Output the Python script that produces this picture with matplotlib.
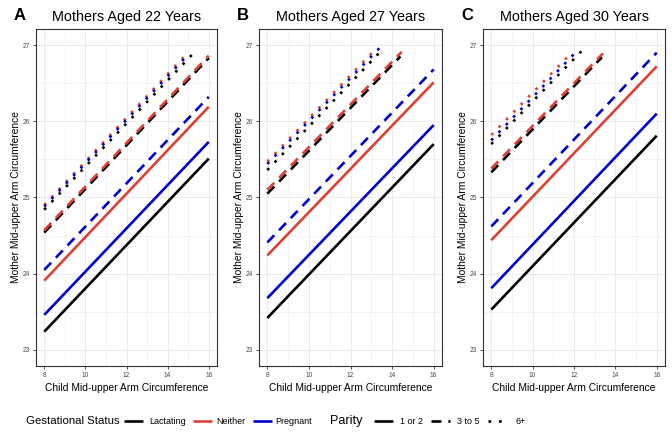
"""
    Mother vs child mid-upper arm circumference, three maternal ages
"""
import matplotlib
matplotlib.use("Agg")
import matplotlib.pyplot as plt
from matplotlib.lines import Line2D
from matplotlib.ticker import MultipleLocator

plt.rcParams["font.family"] = ["Liberation Sans", "DejaVu Sans"]

### Data

STATUS = ["Lactating", "Neither", "Pregnant"]
PARITY = ["1 or 2", "3 to 5", "6+"]
AGES = [22, 27, 30]
PANEL_TAGS = ["A", "B", "C"]

X_START = 8
# rows: status (Lactating, Neither, Pregnant), cols: parity (1 or 2, 3 to 5, 6+)
x_end_22 = [[16, 16, 15.25], [16, 16, 14.95], [16, 16, 14.95]]
y_start_22 = [[23.24, 24.54, 24.84], [23.91, 24.57, 24.90], [23.46, 24.05, 24.88]]
y_end_22 = [[25.51, 26.83, 26.89], [26.19, 26.86, 26.89], [25.73, 26.32, 26.86]]

x_end_27 = [[16, 14.40, 13.50], [16, 14.46, 13.15], [16, 16, 13.50]]
y_start_27 = [[23.42, 25.05, 25.36], [24.24, 25.10, 25.47], [23.68, 24.41, 25.44]]
y_end_27 = [[25.70, 26.85, 26.93], [26.51, 26.91, 26.93], [25.95, 26.68, 26.99]]

x_end_30 = [[16, 13.35, 12.40], [16, 13.40, 11.75], [16, 16, 12.10]]
y_start_30 = [[23.53, 25.33, 25.70], [24.44, 25.38, 25.82], [23.81, 24.62, 25.75]]
y_end_30 = [[25.81, 26.84, 26.93], [26.72, 26.89, 26.86], [26.10, 26.90, 26.91]]

X_END = [x_end_22, x_end_27, x_end_30]
Y_START = [y_start_22, y_start_27, y_start_30]
Y_END = [y_end_22, y_end_27, y_end_30]

### Style

COLORS = ["#000000", "#DC4133", "#0000CD"]
LW = 1.9
DASHES = [None, (3.8, 2.6), (1.0, 3.0)]

W, H = 672, 432
PANEL_LEFT = [36, 259, 483]
PANEL_WIDTH = [181, 183, 182]
PANEL_TOP = 29
PANEL_BOTTOM = 366
GRID_COLOR = "#EBEBEB"
TICK_COLOR = "#4D4D4D"

# legend layout in pixels (left edge of key, left edge of label)
LEGEND_Y = 421
KEY_LEN = 19
STATUS_KEY_X = [124, 193, 253]
STATUS_TEXT_X = [149, 216, 275]
PARITY_KEY_X = [374, 431, 488]
PARITY_TEXT_X = [400, 457, 515]


def style_line(line, parity_idx):
    if DASHES[parity_idx] is not None:
        line.set_dashes(DASHES[parity_idx])
    line.set_dash_capstyle("butt")
    line.set_solid_capstyle("butt")


def draw_panel(ax, k):
    for s in range(len(STATUS)):
        for p in range(len(PARITY)):
            line, = ax.plot([X_START, X_END[k][s][p]],
                            [Y_START[k][s][p], Y_END[k][s][p]],
                            color=COLORS[s], lw=LW, zorder=3)
            style_line(line, p)

    ax.set_xlim(7.6, 16.4)
    ax.set_ylim(22.79, 27.21)
    ax.xaxis.set_major_locator(MultipleLocator(2))
    ax.xaxis.set_minor_locator(MultipleLocator(1))
    ax.yaxis.set_major_locator(MultipleLocator(1))
    ax.yaxis.set_minor_locator(MultipleLocator(0.5))
    ax.grid(which="major", color=GRID_COLOR, lw=0.7, zorder=0)
    ax.grid(which="minor", color=GRID_COLOR, lw=0.4, zorder=0)
    ax.set_axisbelow(True)
    ax.tick_params(which="major", length=2.5, width=0.6, color="#333333",
                   labelsize=4.8, labelcolor=TICK_COLOR, pad=2)
    ax.tick_params(which="minor", length=0)
    for sp in ax.spines.values():
        sp.set_color("#333333")
        sp.set_linewidth(0.8)

    ax.set_xlabel("Child Mid-upper Arm Circumference", fontsize=7.4, labelpad=3)
    ax.set_ylabel("Mother Mid-upper Arm Circumference", fontsize=7.4, labelpad=1)
    ax.set_title(f"Mothers Aged {AGES[k]} Years", fontsize=10.4, pad=6)


def legend_item(fig, key_x, text_x, label, color, parity_idx):
    y = 1 - LEGEND_Y / H
    key = Line2D([key_x / W, (key_x + KEY_LEN) / W], [y, y], color=color,
                 lw=LW, transform=fig.transFigure)
    style_line(key, parity_idx)
    fig.add_artist(key)
    fig.text(text_x / W, y, label, fontsize=6.5, ha="left", va="center")


def main() -> None:
    fig = plt.figure(figsize=(W / 100, H / 100), dpi=100)

    for k in range(len(AGES)):
        ax = fig.add_axes([PANEL_LEFT[k] / W, 1 - PANEL_BOTTOM / H,
                           PANEL_WIDTH[k] / W, (PANEL_BOTTOM - PANEL_TOP) / H])
        draw_panel(ax, k)
        fig.text((PANEL_LEFT[k] - 16) / W, 1 - 16 / H, PANEL_TAGS[k],
                 fontsize=12, fontweight="bold", ha="center", va="center")

    # legends
    fig.text(26 / W, 1 - LEGEND_Y / H, "Gestational Status", fontsize=8.2,
             ha="left", va="center")
    for s in range(len(STATUS)):
        legend_item(fig, STATUS_KEY_X[s], STATUS_TEXT_X[s], STATUS[s],
                    COLORS[s], 0)

    fig.text(330 / W, 1 - LEGEND_Y / H, "Parity", fontsize=9.2,
             ha="left", va="center")
    for p in range(len(PARITY)):
        legend_item(fig, PARITY_KEY_X[p], PARITY_TEXT_X[p], PARITY[p],
                    "black", p)

    fig.savefig("out.png", dpi=100)


if __name__ == "__main__":
    main()
